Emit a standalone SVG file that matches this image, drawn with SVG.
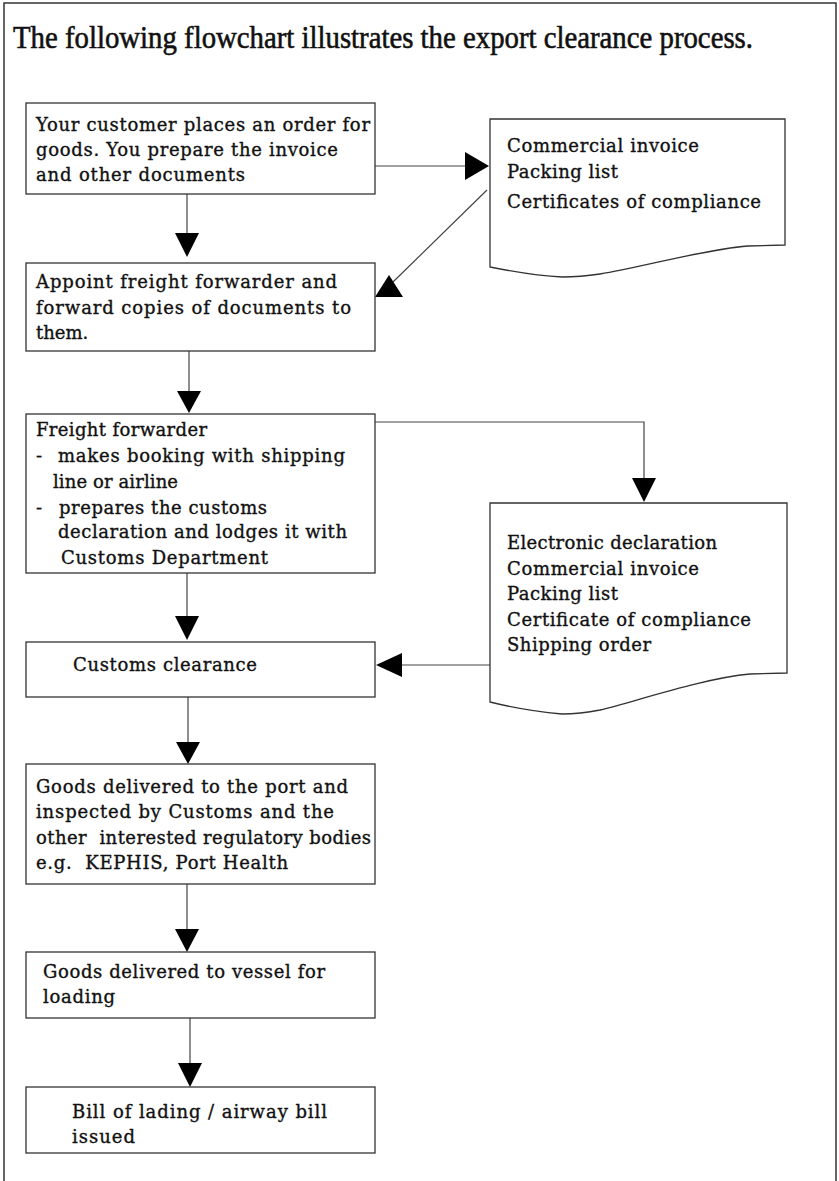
<svg xmlns="http://www.w3.org/2000/svg" width="839" height="1181" viewBox="0 0 839 1181">
<style>
.frame{fill:none;stroke:#333;stroke-width:1.5}
.box{fill:#fff;stroke:#333;stroke-width:1.3}
.line{fill:none;stroke:#444;stroke-width:1.2}
.head{fill:#000}
.t{font-family:"DejaVu Serif","Liberation Serif",serif;font-size:18px;fill:#111;stroke:#111;stroke-width:0.35}
.title{font-family:"Liberation Serif","DejaVu Serif",serif;font-size:32px;fill:#111;stroke:#111;stroke-width:0.6}
</style>
<rect x="0" y="0" width="839" height="1181" fill="#fff"/>
<rect class="frame" x="4" y="3" width="832" height="1190"/>
<text class="title" x="13" y="48" textLength="740" lengthAdjust="spacingAndGlyphs">The following flowchart illustrates the export clearance process.</text>

<g id="connectors">
  <line class="line" x1="187" y1="194" x2="187" y2="236"/>
  <polygon class="head" points="175,233 199,233 187,257"/>
  <line class="line" x1="375" y1="166" x2="467" y2="166"/>
  <polygon class="head" points="465,152 465,180 489,166"/>
  <line class="line" x1="487" y1="190" x2="393" y2="282"/>
  <polygon class="head" points="375,297 403,297 389,275"/>
  <line class="line" x1="189" y1="351" x2="189" y2="394"/>
  <polygon class="head" points="177,391 201,391 189,413"/>
  <polyline class="line" points="375,422 644,422 644,481"/>
  <polygon class="head" points="632,478 656,478 644,502"/>
  <line class="line" x1="187" y1="573" x2="187" y2="619"/>
  <polygon class="head" points="175,616 199,616 187,640"/>
  <line class="line" x1="490" y1="665" x2="400" y2="665"/>
  <polygon class="head" points="402,653 402,677 376,665"/>
  <line class="line" x1="188" y1="697" x2="188" y2="745"/>
  <polygon class="head" points="176,742 200,742 188,764"/>
  <line class="line" x1="187" y1="884" x2="187" y2="932"/>
  <polygon class="head" points="175,929 199,929 187,952"/>
  <line class="line" x1="190" y1="1018" x2="190" y2="1066"/>
  <polygon class="head" points="178,1063 202,1063 190,1087"/>
</g>

<g id="n1">
  <rect class="box" x="26" y="103" width="349" height="91"/>
  <text class="t" x="36" y="131" textLength="334">Your customer places an order for</text>
  <text class="t" x="36" y="156" textLength="302">goods. You prepare the invoice</text>
  <text class="t" x="36" y="181" textLength="209">and other documents</text>
</g>

<g id="doc1">
  <path class="box" d="M490,119 H785 V245 L748,246 C700,250 640,268 600,274 C580,277 568,277 562,277 C540,276 510,271 490,267 Z"/>
  <text class="t" x="507" y="152" textLength="192">Commercial invoice</text>
  <text class="t" x="507" y="178" textLength="111">Packing list</text>
  <text class="t" x="507" y="208" textLength="254">Certificates of compliance</text>
</g>

<g id="n2">
  <rect class="box" x="26" y="263" width="349" height="88"/>
  <text class="t" x="36" y="288" textLength="301">Appoint freight forwarder and</text>
  <text class="t" x="36" y="314" textLength="315">forward copies of documents to</text>
  <text class="t" x="36" y="339">them.</text>
</g>

<g id="n3">
  <rect class="box" x="26" y="414" width="349" height="159"/>
  <text class="t" x="36" y="436" textLength="171">Freight forwarder</text>
  <text class="t" x="36" y="462">-</text>
  <text class="t" x="58" y="462" textLength="287">makes booking with shipping</text>
  <text class="t" x="53" y="488" textLength="125">line or airline</text>
  <text class="t" x="36" y="514">-</text>
  <text class="t" x="59" y="514" textLength="208">prepares the customs</text>
  <text class="t" x="58" y="538" textLength="289">declaration and lodges it with</text>
  <text class="t" x="61" y="564" textLength="207">Customs Department</text>
</g>

<g id="doc2">
  <path class="box" d="M490,503 H787 V673 L750,674 C705,678 640,700 600,710 C585,713 575,714 562,714 C540,712 510,707 490,702 Z"/>
  <text class="t" x="507" y="549" textLength="210">Electronic declaration</text>
  <text class="t" x="507" y="575" textLength="192">Commercial invoice</text>
  <text class="t" x="507" y="600" textLength="111">Packing list</text>
  <text class="t" x="507" y="626" textLength="244">Certificate of compliance</text>
  <text class="t" x="507" y="651" textLength="144">Shipping order</text>
</g>

<g id="n4">
  <rect class="box" x="26" y="642" width="349" height="55"/>
  <text class="t" x="73" y="671" textLength="184">Customs clearance</text>
</g>

<g id="n5">
  <rect class="box" x="26" y="764" width="349" height="120"/>
  <text class="t" x="36" y="793" textLength="312">Goods delivered to the port and</text>
  <text class="t" x="36" y="818" textLength="298">inspected by Customs and the</text>
  <text class="t" x="36" y="844" textLength="335" xml:space="preserve">other  interested regulatory bodies</text>
  <text class="t" x="36" y="869" textLength="252" xml:space="preserve">e.g.  KEPHIS, Port Health</text>
</g>

<g id="n6">
  <rect class="box" x="26" y="952" width="349" height="66"/>
  <text class="t" x="43" y="978" textLength="282">Goods delivered to vessel for</text>
  <text class="t" x="43" y="1003" textLength="72">loading</text>
</g>

<g id="n7">
  <rect class="box" x="26" y="1087" width="349" height="66"/>
  <text class="t" x="72" y="1118" textLength="255">Bill of lading / airway bill</text>
  <text class="t" x="72" y="1143" textLength="63">issued</text>
</g>
</svg>
